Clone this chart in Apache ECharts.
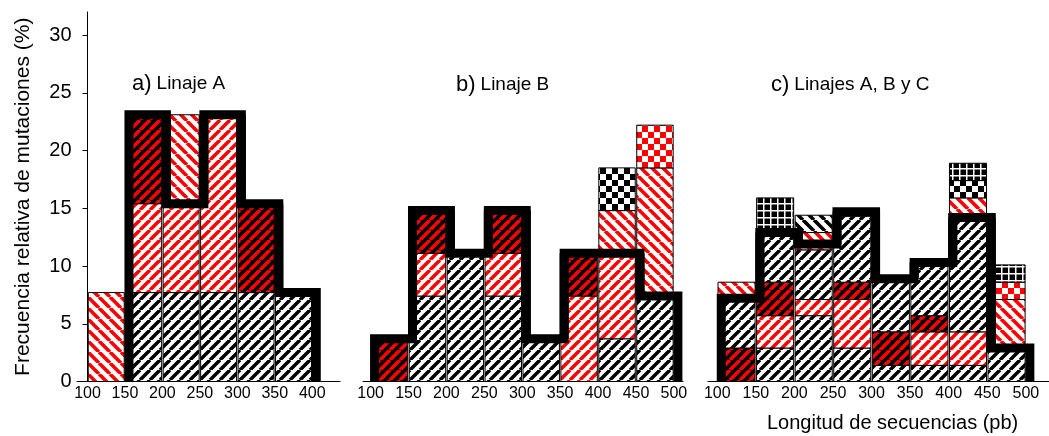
<!DOCTYPE html>
<html>
<head>
<meta charset="utf-8">
<script src="https://cdn.jsdelivr.net/npm/echarts@6/dist/echarts.min.js"></script>
<style>
    html, body { margin: 0; padding: 0; background: #fff; }
    #chart { width: 1049px; height: 436px; }
</style>
</head>
<body>
<div id="chart"></div>
<script>
// bin edges (pb)
const edgesA = [100, 150, 200, 250, 300, 350, 400];
const edgesBC = [100, 150, 200, 250, 300, 350, 400, 450, 500];

// tick labels
const yTicks = [0, 5, 10, 15, 20, 25, 30];
const xLabelsA = [100, 150, 200, 250, 300, 350, 400];
const xLabelsBC = [100, 150, 200, 250, 300, 350, 400, 450, 500];

// stacked pieces per bin, bottom to top: [pattern, top value (%)]
// bk: black "/"  rs: red "/"  rb: red+black "/"  rd: red "\"  bd: black "\"
// ck: black checker  rck: red checker  gr: black grid
const segA = [
    [['rd', 7.7]],
    [['bk', 7.7], ['rs', 15.4], ['rb', 23.1]],
    [['bk', 7.7], ['rs', 15.4], ['rd', 23.1]],
    [['bk', 7.7], ['rs', 23.1]],
    [['bk', 7.7], ['rb', 15.4]],
    [['bk', 7.7]]
];
const segB = [
    [['rb', 3.7]],
    [['bk', 7.4], ['rs', 11.1], ['rb', 14.8]],
    [['bk', 11.1]],
    [['bk', 7.4], ['rs', 11.1], ['rb', 14.8]],
    [['bk', 3.7]],
    [['rs', 7.4], ['rb', 11.1]],
    [['bk', 3.7], ['rs', 11.1], ['rd', 14.8], ['ck', 18.5]],
    [['bk', 7.4], ['rd', 18.5], ['rck', 22.2]]
];
const segC = [
    [['rb', 2.9], ['bk', 7.1], ['rd', 8.6]],
    [['bk', 2.9], ['rs', 5.7], ['rb', 8.6], ['bk', 12.9], ['gr', 15.9]],
    [['bk', 5.7], ['rs', 7.1], ['bk', 11.4], ['rd', 12.9], ['bd', 14.4]],
    [['bk', 2.9], ['rs', 7.1], ['rb', 8.6], ['bk', 14.3]],
    [['bk', 1.4], ['rb', 4.3], ['bk', 8.6]],
    [['bk', 1.4], ['rs', 4.3], ['rb', 5.7], ['bk', 10.0]],
    [['bk', 1.4], ['rs', 4.3], ['bk', 14.3], ['rd', 15.9], ['ck', 17.4], ['gr', 18.9]],
    [['bk', 2.9], ['rd', 7.1], ['rck', 8.6], ['gr', 10.1]]
];

// thick black step outline per bin (0 = none)
const outlineA = [0, 23.1, 15.4, 23.1, 15.4, 7.7];
const outlineB = [3.7, 14.8, 11.1, 14.8, 3.7, 11.1, 11.1, 7.4];
const outlineC = [7.2, 12.9, 11.9, 14.7, 8.9, 10.3, 14.2, 2.9];

// --- fill patterns ---
function stripes(bg, fg, n, w, back) {
    const c = document.createElement('canvas');
    c.width = n; c.height = n;
    const ctx = c.getContext('2d');
    ctx.fillStyle = bg;
    ctx.fillRect(0, 0, n, n);
    ctx.strokeStyle = fg;
    ctx.lineWidth = w;
    ctx.beginPath();
    for (let k = -1; k <= 1; k++) {
        if (back) {
            ctx.moveTo(k * n, 0);
            ctx.lineTo(k * n + n, n);
        } else {
            ctx.moveTo(k * n, n);
            ctx.lineTo(k * n + n, 0);
        }
    }
    ctx.stroke();
    return c;
}
function checker(fg, s) {
    const c = document.createElement('canvas');
    c.width = 2 * s; c.height = 2 * s;
    const ctx = c.getContext('2d');
    ctx.fillStyle = '#fff';
    ctx.fillRect(0, 0, 2 * s, 2 * s);
    ctx.fillStyle = fg;
    ctx.fillRect(0, 0, s, s);
    ctx.fillRect(s, s, s, s);
    return c;
}
function gridPat(s) {
    const c = document.createElement('canvas');
    c.width = s; c.height = s;
    const ctx = c.getContext('2d');
    ctx.fillStyle = '#000';
    ctx.fillRect(0, 0, s, s);
    ctx.fillStyle = '#fff';
    ctx.fillRect(0, 0, s, 1.5);
    ctx.fillRect(0, 0, 1.5, s);
    return c;
}
const patKeys = ['bk', 'rs', 'rb', 'rd', 'bd', 'ck', 'rck', 'gr'];
const patterns = {
    bk: stripes('#fff', '#000', 10, 3.5, false),
    rs: stripes('#fff', '#ff0000', 10, 3.5, false),
    rb: stripes('#000', '#ff0000', 10, 3.6, false),
    rd: stripes('#fff', '#ff0000', 11, 3.6, true),
    bd: stripes('#fff', '#000', 11, 3.6, true),
    ck: checker('#000', 6),
    rck: checker('#ff0000', 6),
    gr: gridPat(7)
};
Object.keys(patterns).forEach(k => {
    patterns[k] = { type: 'pattern', image: patterns[k], repeat: 'repeat' };
});

// build data items for the custom series
function segData(edges, segs) {
    const out = [];
    segs.forEach((pieces, i) => {
        let base = 0;
        pieces.forEach(([pat, top]) => {
            out.push([edges[i], edges[i + 1], base, top, patKeys.indexOf(pat)]);
            base = top;
        });
    });
    return out;
}
function outlineData(edges, vals) {
    const out = [];
    vals.forEach((v, i) => {
        if (!v) return;
        const prev = i > 0 ? vals[i - 1] : 0;
        const next = i < vals.length - 1 ? vals[i + 1] : 0;
        out.push([edges[i], edges[i + 1], prev, v, next]);
    });
    return out;
}

function renderSeg(params, api) {
    const p0 = api.coord([api.value(0), api.value(3)]);
    const p1 = api.coord([api.value(1), api.value(2)]);
    return {
        type: 'rect',
        shape: { x: p0[0] + 0.75, y: p0[1], width: p1[0] - p0[0] - 1.5, height: p1[1] - p0[1] },
        style: { fill: patterns[patKeys[api.value(4)]], stroke: '#000', lineWidth: 1 }
    };
}
function renderOutline(params, api) {
    const x0 = api.value(0), x1 = api.value(1);
    const pts = [[x0, api.value(2)], [x0, api.value(3)], [x1, api.value(3)], [x1, api.value(4)]]
        .map(p => {
            const c = api.coord(p);
            return [c[0] + 4, c[1]];
        });
    return {
        type: 'polyline',
        shape: { points: pts },
        style: { stroke: '#000', lineWidth: 9, fill: null, lineJoin: 'miter', lineCap: 'butt' }
    };
}

const font = 'Liberation Sans, Arial, sans-serif';

function xAxis(idx, min, max, labels) {
    return {
        type: 'value',
        gridIndex: idx,
        min: min,
        max: max,
        axisLine: { lineStyle: { color: '#000', width: 1 } },
        axisTick: { show: false },
        splitLine: { show: false },
        axisLabel: {
            customValues: labels,
            color: '#000',
            fontFamily: font,
            fontSize: 16,
            margin: 4
        }
    };
}
function yAxisHidden(idx) {
    return { type: 'value', gridIndex: idx, min: 0, max: 32, show: false };
}

const chartDom = document.getElementById('chart');
const myChart = echarts.init(chartDom);

const titleRich = {
    p: { fontSize: 22, fontFamily: font, fontWeight: 'normal', color: '#000', lineHeight: 26 },
    t: { fontSize: 19, fontFamily: font, fontWeight: 'normal', color: '#000', lineHeight: 26 }
};
const titleStyle = { fontWeight: 'normal', fontFamily: font, color: '#000', rich: titleRich };

const option = {
    animation: false,
    backgroundColor: '#fff',
    title: [
        { text: '{p|a)} {t|Linaje A}', left: 132, top: 71, padding: 0, textStyle: titleStyle },
        { text: '{p|b)} {t|Linaje B}', left: 456, top: 72, padding: 0, textStyle: titleStyle },
        { text: '{p|c)} {t|Linajes A, B y C}', left: 771, top: 72, padding: 0, textStyle: titleStyle },
        {
            text: 'Longitud de secuencias (pb)', left: 767, top: 413, padding: 0,
            textStyle: { fontSize: 20, fontWeight: 'normal', fontFamily: font, color: '#000' }
        }
    ],
    grid: [
        { left: 77, top: 12, width: 263, height: 369.5 },
        { left: 363, top: 12, width: 320, height: 369.5 },
        { left: 708, top: 12, width: 341, height: 369.5 }
    ],
    xAxis: [
        xAxis(0, 86, 437, xLabelsA),
        xAxis(1, 90, 512, xLabelsBC),
        xAxis(2, 88, 530, xLabelsBC)
    ],
    yAxis: [
        {
            type: 'value',
            gridIndex: 0,
            min: 0,
            max: 32,
            offset: -10.5,
            name: 'Frecuencia relativa de mutaciones (%)',
            nameLocation: 'middle',
            nameGap: 54,
            nameTextStyle: { fontSize: 21, fontFamily: font, color: '#000' },
            axisLine: { show: true, lineStyle: { color: '#000', width: 1 } },
            axisTick: { show: true, inside: false, length: 5, customValues: yTicks, lineStyle: { color: '#000' } },
            axisLabel: { customValues: yTicks, color: '#000', fontFamily: font, fontSize: 20, margin: 16 },
            splitLine: { show: false }
        },
        yAxisHidden(1),
        yAxisHidden(2)
    ],
    series: [
        { type: 'custom', xAxisIndex: 0, yAxisIndex: 0, renderItem: renderSeg, data: segData(edgesA, segA), encode: { x: [0, 1], y: [2, 3] }, silent: true, z: 2 },
        { type: 'custom', xAxisIndex: 1, yAxisIndex: 1, renderItem: renderSeg, data: segData(edgesBC, segB), encode: { x: [0, 1], y: [2, 3] }, silent: true, z: 2 },
        { type: 'custom', xAxisIndex: 2, yAxisIndex: 2, renderItem: renderSeg, data: segData(edgesBC, segC), encode: { x: [0, 1], y: [2, 3] }, silent: true, z: 2 },
        { type: 'custom', xAxisIndex: 0, yAxisIndex: 0, renderItem: renderOutline, data: outlineData(edgesA, outlineA), encode: { x: [0, 1], y: [2, 3, 4] }, silent: true, z: 3 },
        { type: 'custom', xAxisIndex: 1, yAxisIndex: 1, renderItem: renderOutline, data: outlineData(edgesBC, outlineB), encode: { x: [0, 1], y: [2, 3, 4] }, silent: true, z: 3 },
        { type: 'custom', xAxisIndex: 2, yAxisIndex: 2, renderItem: renderOutline, data: outlineData(edgesBC, outlineC), encode: { x: [0, 1], y: [2, 3, 4] }, silent: true, z: 3 }
    ]
};

myChart.setOption(option);
</script>
</body>
</html>
